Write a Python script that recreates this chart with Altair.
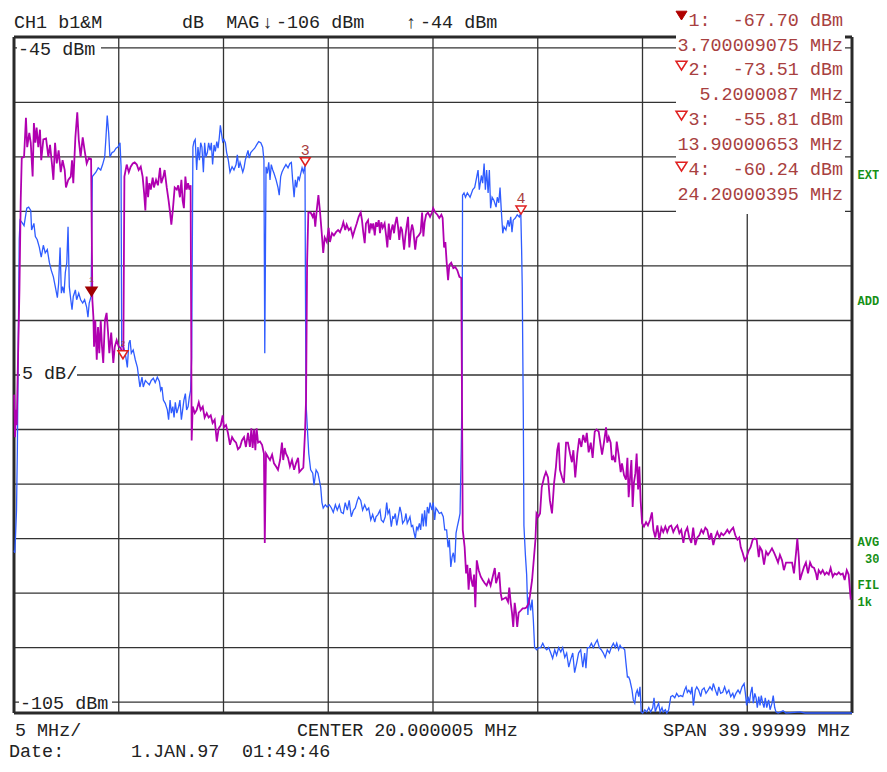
import altair as alt
import pandas as pd

# ---------------- data ----------------
x_domain_mhz = [0, 40]
y_domain_dbm = [-106, -44]
x_grid_mhz = [0, 5, 10, 15, 20, 25, 30, 35, 40]
y_grid_dbm = [-45, -50, -55, -60, -65, -70, -75, -80, -85, -90, -95, -100, -105]

blue_freq_mhz = [
    0.00, 0.04, 0.07, 0.12, 0.16, 0.21, 0.25, 0.29, 0.38, 0.48, 0.61, 0.70, 0.80, 0.84, 0.95, 1.02,
    1.11, 1.21, 1.30, 1.40, 1.49, 1.59, 1.69, 1.78, 1.88, 1.97, 2.07, 2.13, 2.20, 2.26, 2.32, 2.39,
    2.45, 2.52, 2.58, 2.64, 2.71, 2.77, 2.83, 2.93, 2.99, 3.09, 3.18, 3.28, 3.37, 3.47, 3.53, 3.59,
    3.68, 3.74, 3.91, 4.02, 4.14, 4.23, 4.33, 4.39, 4.45, 4.52, 4.58, 4.68, 4.77, 4.87, 4.96, 5.06,
    5.11, 5.14, 5.22, 5.31, 5.41, 5.48, 5.54, 5.60, 5.69, 5.79, 5.89, 5.95, 6.01, 6.11, 6.17, 6.27,
    6.36, 6.46, 6.55, 6.65, 6.74, 6.84, 6.94, 7.00, 7.06, 7.13, 7.22, 7.32, 7.38, 7.45, 7.51, 7.58,
    7.64, 7.70, 7.77, 7.86, 7.92, 7.99, 8.05, 8.11, 8.18, 8.24, 8.31, 8.37, 8.43, 8.48, 8.54, 8.59,
    8.65, 8.72, 8.78, 8.85, 8.91, 8.97, 9.04, 9.10, 9.16, 9.23, 9.29, 9.36, 9.42, 9.48, 9.55, 9.61,
    9.68, 9.74, 9.80, 9.85, 9.90, 9.96, 10.02, 10.09, 10.15, 10.23, 10.31, 10.41, 10.50, 10.60, 10.66, 10.73,
    10.79, 10.85, 10.92, 10.98, 11.04, 11.11, 11.17, 11.23, 11.30, 11.39, 11.49, 11.58, 11.68, 11.78, 11.87, 11.93,
    11.97, 12.00, 12.03, 12.09, 12.16, 12.22, 12.28, 12.35, 12.41, 12.51, 12.60, 12.66, 12.73, 12.79, 12.89, 12.98,
    13.08, 13.17, 13.24, 13.30, 13.37, 13.43, 13.49, 13.56, 13.62, 13.69, 13.75, 13.81, 13.89, 13.91, 13.94, 14.00,
    14.07, 14.16, 14.26, 14.32, 14.42, 14.51, 14.57, 14.64, 14.70, 14.76, 14.86, 14.95, 15.05, 15.15, 15.24, 15.34,
    15.43, 15.53, 15.62, 15.72, 15.81, 15.91, 16.00, 16.10, 16.20, 16.29, 16.39, 16.45, 16.55, 16.64, 16.74, 16.84,
    16.93, 17.03, 17.12, 17.22, 17.28, 17.37, 17.47, 17.53, 17.63, 17.72, 17.79, 17.85, 17.92, 18.01, 18.08, 18.14,
    18.20, 18.27, 18.36, 18.42, 18.49, 18.55, 18.65, 18.71, 18.77, 18.84, 18.90, 18.97, 19.03, 19.09, 19.16, 19.22,
    19.28, 19.35, 19.41, 19.48, 19.54, 19.60, 19.67, 19.73, 19.80, 19.86, 19.95, 20.01, 20.08, 20.14, 20.21, 20.30,
    20.40, 20.49, 20.56, 20.65, 20.72, 20.78, 20.85, 20.91, 20.97, 21.04, 21.10, 21.16, 21.23, 21.29, 21.35, 21.39,
    21.41, 21.48, 21.55, 21.64, 21.77, 21.90, 21.99, 22.09, 22.15, 22.21, 22.31, 22.37, 22.44, 22.50, 22.56, 22.63,
    22.69, 22.75, 22.82, 22.91, 23.01, 23.07, 23.14, 23.20, 23.26, 23.33, 23.39, 23.48, 23.58, 23.64, 23.71, 23.77,
    23.83, 23.93, 24.02, 24.12, 24.19, 24.23, 24.26, 24.31, 24.34, 24.41, 24.47, 24.53, 24.57, 24.66, 24.73, 24.79,
    24.85, 24.95, 25.05, 25.14, 25.24, 25.33, 25.43, 25.52, 25.62, 25.71, 25.81, 25.90, 26.00, 26.10, 26.19, 26.29,
    26.38, 26.48, 26.57, 26.67, 26.76, 26.86, 26.95, 27.05, 27.15, 27.24, 27.30, 27.37, 27.46, 27.56, 27.65, 27.75,
    27.84, 27.94, 28.03, 28.13, 28.22, 28.32, 28.42, 28.51, 28.61, 28.70, 28.77, 28.86, 28.93, 28.99, 29.06, 29.15,
    29.21, 29.28, 29.34, 29.40, 29.50, 29.56, 29.63, 29.69, 29.75, 29.82, 29.88, 29.94, 30.01, 30.11, 30.20, 30.30,
    30.39, 30.49, 30.55, 30.61, 30.68, 30.77, 30.84, 30.93, 30.99, 31.09, 31.16, 31.25, 31.35, 31.44, 31.54, 31.63,
    31.73, 31.82, 31.92, 32.01, 32.08, 32.14, 32.21, 32.30, 32.36, 32.43, 32.52, 32.59, 32.68, 32.78, 32.84, 32.94,
    33.03, 33.13, 33.22, 33.32, 33.38, 33.48, 33.57, 33.64, 33.73, 33.83, 33.92, 34.02, 34.12, 34.21, 34.31, 34.37,
    34.46, 34.56, 34.65, 34.75, 34.85, 34.91, 34.97, 35.04, 35.10, 35.16, 35.23, 35.29, 35.36, 35.42, 35.48, 35.55,
    35.61, 35.67, 35.74, 35.80, 35.86, 35.93, 36.02, 36.09, 36.18, 36.24, 36.31, 36.37, 36.47, 36.71, 36.85, 37.52,
    37.76, 40.00,
]
blue_level_dbm = [
    -91.1, -91.3, -89.9, -87.4, -81.9, -70.9, -62.6, -60.8, -61.0, -61.3, -59.7, -59.6, -59.9, -61.7, -61.1, -62.3,
    -62.6, -63.3, -64.2, -63.1, -63.8, -63.5, -64.7, -65.4, -66.0, -66.9, -67.9, -66.6, -63.3, -67.5, -66.9, -67.5,
    -65.6, -64.7, -61.4, -66.9, -68.1, -69.0, -67.8, -67.2, -68.1, -67.5, -68.1, -68.4, -68.1, -68.8, -69.7, -68.4,
    -67.8, -56.8, -56.4, -56.0, -56.2, -55.7, -55.0, -53.2, -51.2, -52.8, -55.0, -54.6, -54.5, -54.2, -54.1, -53.7,
    -55.9, -72.4, -72.4, -73.0, -74.3, -72.1, -71.8, -73.0, -72.7, -73.6, -74.3, -75.2, -76.1, -75.2, -76.1, -75.5,
    -75.7, -75.9, -75.5, -75.3, -75.7, -75.2, -75.6, -76.4, -76.1, -77.3, -77.6, -78.2, -79.1, -77.3, -78.5, -77.9,
    -78.9, -77.5, -78.5, -77.9, -77.3, -79.1, -78.2, -77.3, -76.7, -78.2, -77.9, -77.0, -76.4, -73.4, -54.1, -53.6,
    -53.4, -56.2, -54.1, -55.3, -53.7, -54.1, -56.4, -53.7, -55.0, -54.6, -53.7, -54.4, -53.7, -55.7, -53.9, -54.5,
    -53.6, -54.2, -53.2, -52.1, -52.8, -53.6, -53.4, -53.7, -54.6, -55.3, -56.4, -55.9, -56.2, -55.7, -54.8, -56.0,
    -55.5, -55.9, -56.4, -56.0, -55.3, -54.8, -54.4, -55.1, -54.6, -54.4, -54.2, -53.9, -53.6, -53.7, -54.1, -55.3,
    -73.0, -64.5, -55.9, -56.5, -55.5, -57.1, -55.7, -56.2, -56.5, -57.1, -57.8, -58.5, -56.8, -56.4, -56.0, -55.7,
    -56.0, -55.6, -55.5, -57.1, -58.7, -57.1, -57.8, -56.8, -57.1, -56.5, -56.0, -56.4, -55.8, -66.3, -77.6, -79.8,
    -82.2, -83.7, -84.0, -85.1, -83.7, -84.0, -84.6, -85.3, -86.7, -87.2, -86.9, -87.1, -86.9, -87.2, -87.6, -86.9,
    -87.4, -86.9, -87.6, -87.7, -86.7, -87.4, -86.5, -88.0, -87.4, -87.2, -86.5, -86.2, -86.5, -87.4, -86.9, -87.4,
    -87.2, -88.3, -87.8, -88.5, -88.0, -87.8, -87.4, -88.3, -88.5, -88.0, -86.7, -87.7, -87.4, -88.9, -88.0, -88.1,
    -87.7, -88.8, -87.8, -87.1, -87.7, -88.6, -88.3, -87.7, -88.6, -88.3, -88.0, -88.9, -88.8, -89.4, -90.0, -88.9,
    -89.2, -88.6, -89.2, -87.7, -88.9, -87.4, -88.9, -87.1, -87.7, -86.7, -87.4, -86.7, -88.3, -87.2, -87.4, -87.7,
    -87.6, -88.0, -89.2, -89.2, -90.8, -90.1, -92.6, -91.7, -91.3, -92.2, -89.5, -88.9, -88.3, -87.7, -81.6, -75.5,
    -58.5, -58.3, -58.7, -58.3, -58.7, -58.0, -57.8, -56.8, -56.2, -58.0, -56.7, -57.4, -55.6, -58.0, -56.2, -58.3,
    -56.2, -59.7, -58.7, -59.0, -59.6, -58.7, -59.2, -57.8, -59.9, -62.0, -61.4, -61.7, -60.8, -61.4, -60.5, -61.9,
    -60.8, -60.6, -60.3, -60.5, -60.1, -63.5, -66.9, -78.5, -88.8, -91.5, -93.3, -97.0, -95.4, -96.6, -95.6, -97.5,
    -100.0, -100.2, -100.0, -100.0, -99.6, -100.0, -100.2, -100.0, -100.5, -101.0, -100.2, -100.7, -100.0, -100.4, -100.0, -100.9,
    -100.5, -101.8, -101.1, -100.5, -102.3, -101.4, -100.5, -100.2, -101.8, -100.5, -101.9, -100.0, -100.0, -99.6, -100.0, -99.6,
    -99.3, -100.0, -100.2, -100.5, -100.9, -100.2, -100.5, -100.0, -99.6, -100.0, -99.6, -100.2, -99.8, -100.0, -100.0, -100.2,
    -101.4, -102.7, -102.7, -103.0, -103.9, -104.8, -105.1, -104.2, -103.9, -104.5, -103.6, -105.9, -106.0, -105.7, -105.9, -105.5,
    -105.9, -105.5, -104.6, -105.9, -105.5, -105.1, -105.9, -105.5, -105.9, -105.7, -106.0, -105.7, -104.5, -104.4, -104.6, -104.2,
    -104.5, -104.4, -104.5, -103.9, -103.6, -104.1, -103.9, -104.2, -103.6, -105.3, -103.9, -103.6, -103.9, -104.5, -103.9, -103.7,
    -104.2, -103.9, -103.6, -103.9, -103.3, -103.9, -104.4, -103.6, -104.2, -104.1, -103.6, -104.2, -103.9, -104.5, -104.2, -104.6,
    -104.2, -103.9, -104.2, -103.6, -103.3, -104.2, -105.3, -104.5, -105.1, -104.2, -103.6, -105.1, -104.2, -104.6, -105.5, -104.5,
    -105.3, -104.4, -105.1, -105.5, -104.6, -105.5, -104.8, -105.7, -105.1, -104.4, -105.5, -105.9, -106.0, -105.8, -106.0, -105.9,
    -106.0, -106.0,
]

magenta_freq_mhz = [
    0.01, 0.05, 0.09, 0.13, 0.19, 0.26, 0.32, 0.37, 0.48, 0.57, 0.63, 0.73, 0.80, 0.89, 0.95, 1.02,
    1.08, 1.16, 1.24, 1.30, 1.40, 1.53, 1.64, 1.72, 1.81, 1.88, 1.96, 2.04, 2.13, 2.23, 2.32, 2.42,
    2.48, 2.59, 2.71, 2.77, 2.83, 2.93, 3.02, 3.09, 3.18, 3.28, 3.37, 3.47, 3.57, 3.68, 3.74, 3.79,
    3.82, 3.88, 3.95, 4.01, 4.07, 4.14, 4.20, 4.26, 4.34, 4.42, 4.49, 4.55, 4.64, 4.74, 4.81, 4.90,
    5.00, 5.09, 5.16, 5.22, 5.27, 5.38, 5.48, 5.57, 5.67, 5.76, 5.86, 5.95, 6.05, 6.14, 6.21, 6.27,
    6.33, 6.40, 6.46, 6.53, 6.62, 6.68, 6.78, 6.87, 6.97, 7.03, 7.13, 7.19, 7.29, 7.38, 7.45, 7.51,
    7.58, 7.67, 7.77, 7.84, 7.92, 7.99, 8.05, 8.11, 8.18, 8.24, 8.31, 8.37, 8.43, 8.48, 8.53, 8.63,
    8.72, 8.82, 8.91, 9.01, 9.10, 9.20, 9.29, 9.39, 9.48, 9.58, 9.68, 9.77, 9.87, 9.96, 10.02, 10.12,
    10.21, 10.31, 10.41, 10.50, 10.60, 10.69, 10.79, 10.88, 10.98, 11.07, 11.17, 11.26, 11.33, 11.39, 11.46, 11.52,
    11.58, 11.65, 11.74, 11.84, 11.93, 11.97, 12.00, 12.03, 12.12, 12.22, 12.32, 12.41, 12.51, 12.60, 12.70, 12.79,
    12.85, 12.92, 12.98, 13.08, 13.17, 13.27, 13.37, 13.46, 13.56, 13.62, 13.71, 13.81, 13.89, 13.94, 13.99, 14.05,
    14.16, 14.26, 14.32, 14.38, 14.45, 14.53, 14.61, 14.69, 14.76, 14.83, 14.93, 15.02, 15.08, 15.18, 15.27, 15.37,
    15.47, 15.56, 15.66, 15.72, 15.81, 15.88, 15.98, 16.07, 16.17, 16.26, 16.36, 16.45, 16.55, 16.61, 16.67, 16.74,
    16.80, 16.90, 16.96, 17.03, 17.09, 17.15, 17.22, 17.28, 17.34, 17.41, 17.47, 17.53, 17.60, 17.69, 17.76, 17.82,
    17.89, 17.95, 18.01, 18.08, 18.14, 18.20, 18.27, 18.33, 18.39, 18.46, 18.52, 18.62, 18.68, 18.74, 18.81, 18.87,
    18.94, 19.00, 19.06, 19.15, 19.22, 19.32, 19.41, 19.48, 19.54, 19.60, 19.67, 19.76, 19.86, 19.95, 20.01, 20.11,
    20.21, 20.30, 20.40, 20.46, 20.53, 20.59, 20.65, 20.72, 20.78, 20.87, 20.97, 21.06, 21.16, 21.26, 21.35, 21.42,
    21.51, 21.58, 21.64, 21.70, 21.77, 21.83, 21.90, 21.96, 22.02, 22.09, 22.18, 22.28, 22.37, 22.47, 22.56, 22.66,
    22.75, 22.85, 22.95, 23.01, 23.10, 23.16, 23.23, 23.29, 23.39, 23.48, 23.58, 23.64, 23.71, 23.77, 23.83, 23.90,
    23.96, 24.02, 24.09, 24.19, 24.28, 24.38, 24.47, 24.57, 24.63, 24.73, 24.79, 24.89, 24.94, 25.03, 25.11, 25.19,
    25.30, 25.39, 25.49, 25.58, 25.68, 25.78, 25.87, 25.93, 26.00, 26.06, 26.16, 26.25, 26.35, 26.44, 26.54, 26.63,
    26.70, 26.79, 26.89, 26.98, 27.08, 27.17, 27.27, 27.34, 27.43, 27.53, 27.62, 27.72, 27.81, 27.91, 28.00, 28.07,
    28.16, 28.26, 28.32, 28.39, 28.48, 28.54, 28.61, 28.70, 28.77, 28.86, 28.96, 29.02, 29.12, 29.21, 29.28, 29.34,
    29.40, 29.47, 29.53, 29.59, 29.66, 29.72, 29.79, 29.85, 29.91, 29.98, 30.07, 30.17, 30.26, 30.36, 30.45, 30.52,
    30.61, 30.71, 30.80, 30.90, 30.99, 31.09, 31.18, 31.28, 31.37, 31.47, 31.57, 31.66, 31.76, 31.85, 31.95, 32.04,
    32.14, 32.23, 32.33, 32.42, 32.52, 32.62, 32.71, 32.81, 32.90, 33.00, 33.09, 33.19, 33.28, 33.38, 33.47, 33.57,
    33.67, 33.76, 33.86, 33.95, 34.05, 34.14, 34.24, 34.33, 34.43, 34.53, 34.62, 34.69, 34.78, 34.88, 34.97, 35.07,
    35.16, 35.26, 35.35, 35.45, 35.55, 35.61, 35.70, 35.80, 35.90, 35.99, 36.09, 36.18, 36.28, 36.37, 36.47, 36.56,
    36.66, 36.75, 36.85, 36.95, 37.04, 37.14, 37.23, 37.33, 37.39, 37.46, 37.52, 37.61, 37.71, 37.80, 37.90, 38.00,
    38.09, 38.19, 38.28, 38.34, 38.41, 38.51, 38.60, 38.70, 38.79, 38.89, 38.98, 39.08, 39.17, 39.27, 39.37, 39.46,
    39.56, 39.65, 39.75, 39.84, 39.94,
]
magenta_level_dbm = [
    -76.8, -80.7, -78.2, -79.6, -73.6, -67.2, -59.0, -55.1, -55.0, -51.4, -54.1, -52.8, -53.7, -56.8, -51.9, -53.7,
    -52.3, -54.1, -52.5, -55.3, -53.4, -53.3, -55.0, -53.9, -55.6, -57.1, -53.7, -55.6, -54.4, -56.4, -55.3, -56.2,
    -57.8, -57.1, -56.8, -55.3, -57.4, -53.2, -50.9, -53.4, -55.0, -53.2, -54.4, -55.6, -55.1, -55.2, -68.1, -69.7,
    -72.4, -70.0, -73.6, -70.6, -73.0, -70.0, -72.4, -73.9, -70.0, -69.3, -71.1, -73.0, -71.1, -73.9, -72.4, -71.8,
    -72.4, -72.5, -73.0, -72.7, -56.8, -55.7, -56.4, -55.9, -55.6, -55.5, -55.7, -56.2, -55.9, -56.8, -58.3, -59.9,
    -56.8, -58.7, -57.4, -58.0, -56.9, -57.8, -57.1, -57.6, -56.0, -57.4, -56.8, -56.2, -57.8, -59.0, -60.1, -61.2,
    -59.9, -57.8, -58.0, -57.6, -58.7, -57.1, -59.0, -59.7, -56.8, -58.0, -57.4, -58.0, -57.6, -81.0, -77.9, -78.5,
    -78.2, -77.5, -78.2, -77.9, -78.9, -78.5, -78.9, -78.7, -79.4, -79.1, -81.1, -79.9, -79.6, -78.7, -79.8, -79.6,
    -80.3, -81.4, -80.7, -81.0, -81.2, -81.8, -81.6, -81.0, -80.7, -81.6, -80.3, -81.6, -79.9, -81.7, -80.0, -81.9,
    -79.9, -81.2, -81.1, -81.4, -82.2, -90.4, -86.2, -82.2, -82.5, -82.8, -82.3, -83.1, -83.4, -83.7, -82.8, -81.2,
    -82.8, -81.7, -82.2, -82.6, -83.4, -82.8, -83.7, -83.1, -82.6, -83.9, -83.7, -83.5, -80.3, -77.3, -64.7, -60.1,
    -60.1, -60.5, -60.1, -61.4, -59.9, -58.5, -60.1, -62.0, -63.8, -62.4, -62.8, -61.5, -62.8, -62.0, -62.2, -61.9,
    -61.7, -61.9, -61.4, -61.0, -61.7, -61.2, -61.7, -61.5, -62.3, -61.7, -61.1, -60.5, -60.1, -60.8, -61.9, -62.9,
    -61.1, -60.8, -62.0, -61.1, -61.5, -61.1, -62.2, -61.0, -61.4, -60.8, -62.0, -61.0, -61.5, -61.1, -62.2, -63.3,
    -61.1, -62.6, -61.7, -61.2, -62.0, -61.1, -60.5, -61.4, -62.6, -61.4, -61.7, -63.5, -62.3, -61.4, -60.5, -63.3,
    -61.9, -61.2, -61.7, -63.5, -62.4, -62.2, -61.9, -60.1, -62.3, -61.0, -60.3, -60.1, -60.5, -60.1, -59.7, -60.1,
    -60.3, -60.6, -60.3, -60.6, -63.3, -62.8, -64.6, -66.3, -64.9, -64.7, -65.2, -65.1, -65.4, -66.0, -66.1, -89.2,
    -90.8, -93.2, -92.4, -94.7, -92.7, -93.8, -94.4, -93.3, -96.3, -92.0, -92.9, -93.5, -93.8, -94.1, -94.3, -93.8,
    -94.3, -93.5, -92.7, -94.1, -93.5, -93.1, -95.0, -95.6, -95.5, -95.4, -95.8, -94.5, -95.9, -96.8, -98.1, -95.9,
    -96.8, -98.1, -96.8, -96.6, -96.4, -96.4, -96.3, -95.9, -95.2, -93.8, -92.4, -90.1, -87.7, -88.0, -87.7, -85.3,
    -84.4, -83.9, -84.4, -86.5, -87.7, -84.9, -83.4, -81.9, -81.2, -83.7, -84.4, -84.9, -81.2, -81.2, -82.2, -83.0,
    -81.9, -84.4, -82.2, -80.8, -81.6, -80.5, -81.2, -80.3, -82.1, -81.2, -82.6, -80.2, -80.0, -80.2, -81.4, -82.3,
    -81.2, -79.8, -81.2, -80.7, -81.2, -82.8, -82.5, -83.0, -81.1, -82.3, -83.9, -83.1, -84.2, -84.6, -82.6, -86.2,
    -84.6, -82.8, -87.1, -84.9, -84.0, -82.2, -85.5, -83.4, -86.5, -88.6, -88.9, -88.5, -88.8, -88.3, -87.6, -89.2,
    -89.9, -88.8, -90.1, -89.0, -89.4, -88.9, -89.4, -88.9, -88.8, -89.4, -89.0, -88.8, -89.5, -89.2, -90.4, -89.4,
    -89.0, -89.9, -90.4, -89.0, -90.6, -89.9, -89.7, -89.2, -89.5, -89.0, -89.2, -90.1, -89.5, -90.6, -89.9, -89.4,
    -89.9, -89.5, -89.7, -89.5, -89.2, -89.5, -89.2, -89.0, -89.7, -90.1, -89.9, -90.8, -91.3, -92.0, -91.7, -91.1,
    -90.8, -90.1, -90.0, -90.1, -91.7, -90.8, -91.1, -92.4, -91.2, -91.5, -91.2, -90.9, -91.3, -91.7, -92.2, -91.5,
    -92.0, -92.9, -92.2, -92.2, -92.2, -92.2, -93.2, -91.3, -90.0, -91.7, -93.8, -93.2, -92.6, -92.2, -93.2, -92.2,
    -92.6, -92.7, -93.2, -93.8, -92.9, -93.2, -92.9, -93.3, -93.1, -93.3, -92.7, -93.5, -93.2, -93.3, -93.1, -93.3,
    -93.2, -93.8, -92.9, -93.3, -95.6,
]

marker_ids = ["1", "2", "3", "4"]
marker_freq_text = ["3.700009075", "5.2000087", "13.90000653", "24.20000395"]
marker_freq_mhz = [float(s) for s in marker_freq_text]
marker_level_dbm = [-67.70, -73.51, -55.81, -60.24]

NB = "\u00a0"  # non-breaking space keeps the monospaced columns
header_channel = "CH1 b1&M"
header_format = "dB" + NB * 2 + "MAG"
arrow_down = "\u2193"
arrow_up = "\u2191"
header_ref_low = "-106" + NB + "dBm"
header_ref_high = "-44" + NB + "dBm"
scale_top_label = "-45 dBm"
scale_div_label = "5 dB/"
scale_bottom_label = "-105 dBm"
footer_div = "5 MHz/"
footer_center = "CENTER 20.000005 MHz"
footer_span = "SPAN 39.99999 MHz"
footer_date_label = "Date:"
footer_date = "1.JAN.97"
footer_time = "01:49:46"
status_labels = ["EXT", "ADD", "AVG", "30", "FIL", "1k"]

# ---------------- styling / helpers ----------------
FONT = "Liberation Mono"
FS = 18.4
BLUE = "#2f5cff"
MAGENTA = "#b000b0"
MARK_RED = "#e02020"
TEXT_RED = "#a84040"
GREEN = "#169016"
GRID = "#333333"

xs = alt.Scale(domain=x_domain_mhz, nice=False, zero=False)
ys = alt.Scale(domain=y_domain_dbm, nice=False, zero=False)
one = pd.DataFrame({"k": [0]})
TRI = "M-1,-1.6L1,-1.6L0,0Z"


def text_at(s, px, py, size=FS, color="#222222", align="left", weight="normal", baseline="alphabetic"):
    return alt.Chart(one).mark_text(
        text=s, align=align, baseline=baseline, font=FONT, fontSize=size,
        fontWeight=weight, color=color,
    ).encode(x=alt.value(px), y=alt.value(py))


def white_box(x1, x2, y1, y2):
    return alt.Chart(one).mark_rect(color="white", opacity=1).encode(
        x=alt.value(x1), x2=alt.value(x2), y=alt.value(y1), y2=alt.value(y2)
    )


def tri_at(px, py, filled):
    if filled:
        m = alt.Chart(one).mark_point(shape=TRI, size=121, filled=True, fill="#b00000",
                                      stroke="#b00000", strokeWidth=1, opacity=1)
    else:
        m = alt.Chart(one).mark_point(shape=TRI, size=121, filled=True, fill="white",
                                      stroke=MARK_RED, strokeWidth=1.5, opacity=1)
    return m.encode(x=alt.value(px), y=alt.value(py))


layers = []

# grid
layers.append(alt.Chart(pd.DataFrame({"f": x_grid_mhz})).mark_rule(color=GRID, strokeWidth=1.3).encode(
    x=alt.X("f:Q", scale=xs, axis=None)))
layers.append(alt.Chart(pd.DataFrame({"d": y_grid_dbm})).mark_rule(color=GRID, strokeWidth=1.3).encode(
    y=alt.Y("d:Q", scale=ys, axis=None)))
# frame
layers.append(alt.Chart(pd.DataFrame({"f": x_domain_mhz})).mark_rule(color="#2a2a2a", strokeWidth=3).encode(
    x=alt.X("f:Q", scale=xs, axis=None)))
layers.append(alt.Chart(pd.DataFrame({"d": y_domain_dbm})).mark_rule(color="#2a2a2a", strokeWidth=3).encode(
    y=alt.Y("d:Q", scale=ys, axis=None)))

# white backgrounds of the labels
layers.append(white_box(662, 831, -27, 177))
layers.append(white_box(3, 87, 5, 18))
layers.append(white_box(6, 63, 329, 342))
layers.append(white_box(5, 98, 659, 672))

# traces
blue_df = pd.DataFrame({"f": blue_freq_mhz, "d": blue_level_dbm, "i": range(len(blue_freq_mhz))})
mag_df = pd.DataFrame({"f": magenta_freq_mhz, "d": magenta_level_dbm, "i": range(len(magenta_freq_mhz))})
layers.append(alt.Chart(blue_df).mark_line(color=BLUE, strokeWidth=1.3).encode(
    x=alt.X("f:Q", scale=xs, axis=None), y=alt.Y("d:Q", scale=ys, axis=None), order="i:Q"))
layers.append(alt.Chart(mag_df).mark_line(color=MAGENTA, strokeWidth=1.8).encode(
    x=alt.X("f:Q", scale=xs, axis=None), y=alt.Y("d:Q", scale=ys, axis=None), order="i:Q"))

# markers on the trace
mk = pd.DataFrame({"id": marker_ids, "f": marker_freq_mhz, "d": marker_level_dbm})
enc = dict(x=alt.X("f:Q", scale=xs, axis=None), y=alt.Y("d:Q", scale=ys, axis=None))
layers.append(alt.Chart(mk.iloc[:1]).mark_point(shape=TRI, size=100, filled=True, fill="#a00000",
                                                stroke="#a00000", opacity=1).encode(**enc))
layers.append(alt.Chart(mk.iloc[1:]).mark_point(shape=TRI, size=100, filled=True, fill="white",
                                                stroke=MARK_RED, strokeWidth=1.5, opacity=1).encode(**enc))
layers.append(alt.Chart(mk.iloc[2:]).mark_text(font=FONT, fontSize=15, color=TEXT_RED, baseline="middle",
                                               dy=-16).encode(text="id:N", **enc))
layers.append(alt.Chart(mk.iloc[:2]).mark_text(font=FONT, fontSize=8, color=TEXT_RED, baseline="middle",
                                               dy=-15).encode(text="id:N", **enc))

# header
layers.append(text_at(header_channel, 0, -9))
layers.append(text_at(header_format, 168, -9))
layers.append(text_at(arrow_down, 253.5, -9, align="center"))
layers.append(text_at(header_ref_low, 262, -9))
layers.append(text_at(arrow_up, 397, -9, align="center"))
layers.append(text_at(header_ref_high, 406, -9))

# marker readout
readout_y = [-11, 38, 88, 138]
for k in range(4):
    layers.append(text_at(f"{marker_ids[k]}:{NB}{NB}{marker_level_dbm[k]:.2f}{NB}dBm", 829, readout_y[k],
                          color=TEXT_RED, align="right"))
    layers.append(text_at(f"{marker_freq_text[k]}{NB}MHz", 829, readout_y[k] + 25, color=TEXT_RED, align="right"))
layers.append(tri_at(667.5, -17, True))
layers.append(tri_at(667.5, 33, False))
layers.append(tri_at(667.5, 83, False))
layers.append(tri_at(667.5, 134, False))

# in-plot scale labels
layers.append(text_at(scale_top_label, 4, 11.5, baseline="middle"))
layers.append(text_at(scale_div_label, 8, 335.5, baseline="middle"))
layers.append(text_at(scale_bottom_label, 6, 665.5, baseline="middle"))

# status labels on the right
status_pos = [(843.5, 142), (843.5, 268), (843.5, 509), (851, 526), (843.5, 552), (843.5, 569)]
for s, (px, py) in zip(status_labels, status_pos):
    layers.append(text_at(s, px, py, size=12, color=GREEN, weight="bold"))

# footer
layers.append(text_at(footer_div, 1, 699))
layers.append(text_at(footer_center, 283, 699))
layers.append(text_at(footer_span, 649, 699))
layers.append(text_at(footer_date_label, -5, 720))
layers.append(text_at(footer_date, 117, 720))
layers.append(text_at(footer_time, 228, 720))

chart = alt.layer(*layers).properties(
    width=838,
    height=676,
    padding={"left": 6, "top": 29, "right": 27, "bottom": 51},
    autosize=alt.AutoSizeParams(type="none"),
    background="white",
).configure_view(strokeWidth=0)

chart.save("out.html", embed_options={"renderer": "svg", "actions": False})
